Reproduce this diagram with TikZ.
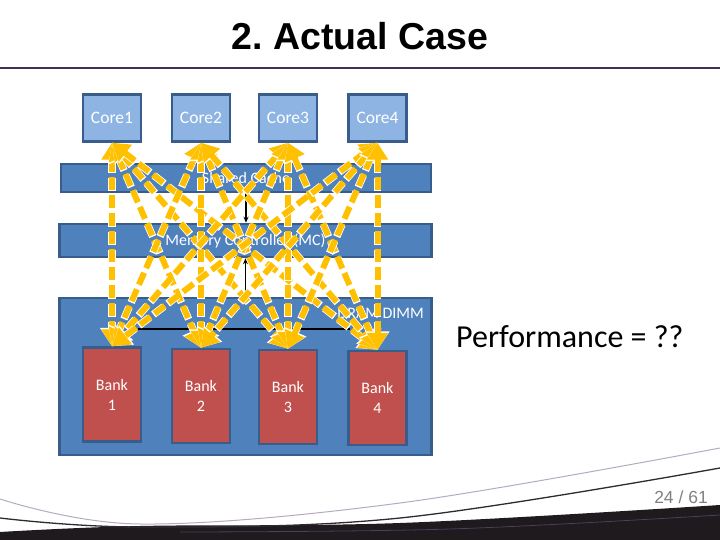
\documentclass[tikz,border=0pt]{standalone}
\usepackage{fontspec}
\setmainfont{Carlito}
\newfontfamily\arialf{Liberation Sans}
\usetikzlibrary{arrows.meta}
\definecolor{corefill}{HTML}{8EB4E3}
\definecolor{bordc}{HTML}{385D8A}
\definecolor{barfill}{HTML}{4F81BD}
\definecolor{bankfill}{HTML}{C0504D}
\definecolor{arrowy}{HTML}{FFC000}
\definecolor{titleline}{HTML}{403152}
\definecolor{swgray}{HTML}{B4ABBE}
\definecolor{swdark}{HTML}{2E2A30}
\definecolor{swblack}{HTML}{1E1A1E}
\definecolor{swpurple}{HTML}{4A4058}
\frenchspacing
\begin{document}
\begin{tikzpicture}[x=1pt,y=-1pt,
  box/.style={draw=bordc, line width=2.5pt, inner sep=0pt, text=white, align=center, font=\fontsize{16}{20}\selectfont},
  core/.style={box, fill=corefill, minimum width=58pt, minimum height=47pt, font=\fontsize{17.5}{21}\selectfont},
  bar/.style={box, fill=barfill},
  bank/.style={box, fill=bankfill, minimum width=58pt, minimum height=94pt},
  conn/.style={draw=black, line width=1.2pt, -{Stealth[length=6pt,width=5pt]}},
  yw/.style={draw=white, line width=7.5pt, dash pattern=on 13pt off 5pt, {Triangle[length=18.5pt,width=23pt]}-{Triangle[length=18.5pt,width=23pt]}},
  ya/.style={draw=arrowy, line width=6pt, dash pattern=on 13pt off 5pt, {Triangle[length=17pt,width=20.5pt]}-{Triangle[length=17pt,width=20.5pt]}}]
\useasboundingbox (0,0) rectangle (720,540);
% title
\node[font=\arialf\bfseries\fontsize{37.5}{42}\selectfont] (title) at (360,36) {2. Actual Case};
\draw[titleline, line width=2.5pt] (0,68) -- (720,68);
% bars
\node[bar, minimum width=370pt, minimum height=28pt] (cache) at (246,178) {Shared Cache};
\node[bar, minimum width=372pt, minimum height=33pt] (mc) at (245.5,240.5) {Memory Controller (MC)};
\node[bar, minimum width=372pt, minimum height=157pt] (dimm) at (245.5,376.5) {};
\node[text=white, anchor=east, inner sep=0pt, font=\fontsize{16}{20}\selectfont] (dimmlbl) at (424,313) {DRAM DIMM};
% cores
\node[core] (c1) at (112,118) {Core1};
\node[core] (c2) at (201,118) {Core2};
\node[core] (c3) at (288,118) {Core3};
\node[core] (c4) at (377.5,118) {Core4};
% banks
\node[bank] (b1) at (112,394.5) {Bank\\1};
\node[bank] (b2) at (201,396) {Bank\\2};
\node[bank] (b3) at (288,397) {Bank\\3};
\node[bank] (b4) at (377.5,398) {Bank\\4};
% black connectors
\draw[conn] (cache.south) -- (cache.south |- mc.north);
\draw[conn] (mc.south |- dimm.north) -- (mc.south);
\coordinate (busL) at (138,329);
\coordinate (busR) at (350,329);
\draw[black, line width=1.2pt] (busL) -- (busR);
% yellow arrows
\foreach \i in {1,...,4}{
  \foreach \j in {1,...,4}{
    \draw[yw] (c\i.south) -- (b\j.north);
    \draw[ya] (c\i.south) -- (b\j.north);
  }
}
% performance
\node[anchor=west, inner sep=0pt, font=\fontsize{32}{38}\selectfont] (perf) at (456,337) {Performance = ??};
% footer swoosh
\fill[swblack] plot[smooth, tension=0.6] coordinates {(0,532) (140,526) (400,523) (720,505)} -- (720,540) -- (0,540) -- cycle;
\draw[swpurple, line width=0.8pt] plot[smooth, tension=0.6] coordinates {(180,532) (450,529) (720,515)};
\draw[swgray, line width=1pt] plot[smooth, tension=0.6] coordinates {(0,499) (140,524) (400,503) (720,448)};
\draw[swdark, line width=1.3pt] plot[smooth, tension=0.6] coordinates {(0,518) (140,527) (400,518) (720,468)};
\node[text=gray, font=\arialf\fontsize{17.5}{20}\selectfont] (page) at (681,497) {24 / 61};
\end{tikzpicture}
\end{document}
